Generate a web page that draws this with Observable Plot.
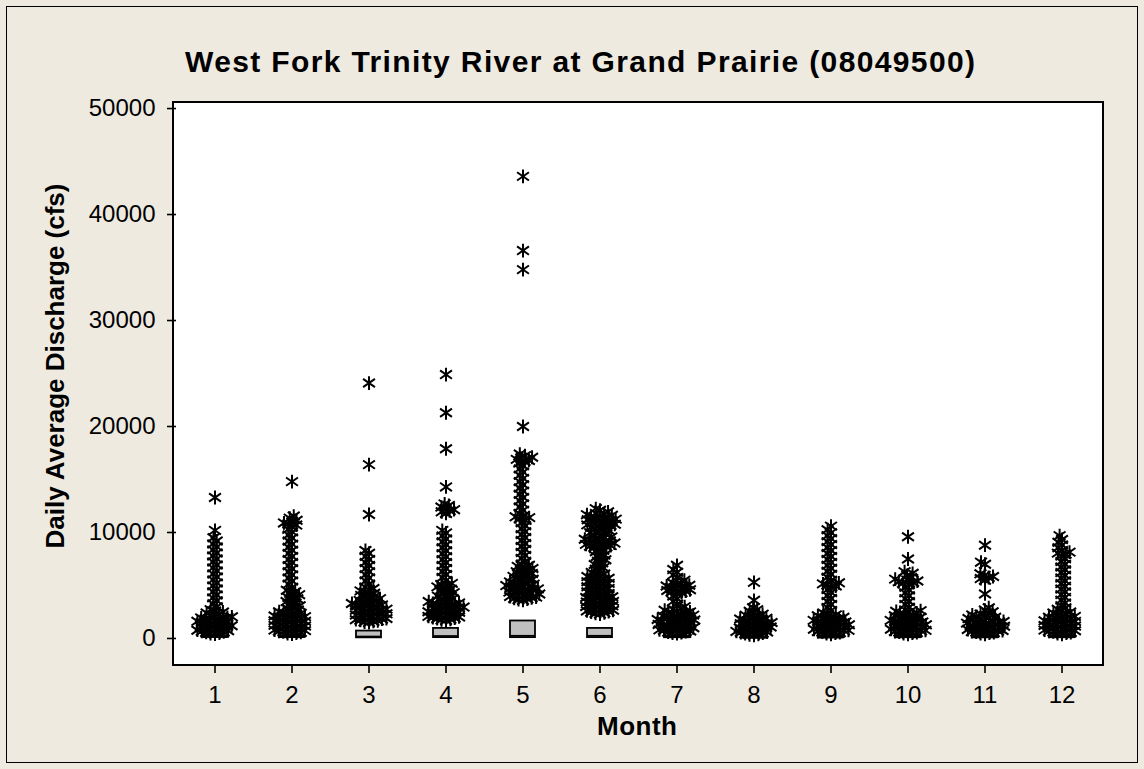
<!DOCTYPE html>
<html><head><meta charset="utf-8">
<script src="https://cdn.jsdelivr.net/npm/d3@7"></script>
<script src="https://cdn.jsdelivr.net/npm/@observablehq/plot@0.6"></script>
<style>
html,body{margin:0;padding:0;background:#EEEAE0;}
#wrap{position:relative;width:1144px;height:769px;background:#EEEAE0;overflow:hidden;font-family:"Liberation Sans",Arial,sans-serif;}
#outer{position:absolute;left:6px;top:6px;width:1132px;height:757px;border:1px solid #000;box-sizing:border-box;}
#plotbg{position:absolute;left:172px;top:101px;width:932px;height:565px;background:#fff;border:2px solid #000;box-sizing:border-box;}
#chart{position:absolute;left:0;top:0;}
#labels{position:absolute;left:0;top:0;pointer-events:none;}
</style></head><body>
<div id="wrap"><div id="outer"></div><div id="plotbg"></div><div id="chart"></div>
<svg id="labels" width="1144" height="769" font-family="Liberation Sans, Arial, sans-serif" font-weight="bold" fill="#000">
<text x="580" y="72" text-anchor="middle" font-size="30" textLength="790" lengthAdjust="spacing">West Fork Trinity River at Grand Prairie (08049500)</text>
<text x="637" y="735" text-anchor="middle" font-size="26" textLength="80" lengthAdjust="spacing">Month</text>
<text transform="translate(64,366) rotate(-90)" text-anchor="middle" font-size="26" textLength="365" lengthAdjust="spacing">Daily Average Discharge (cfs)</text>
</svg></div>
<script>
// ---- Data ----
const months = [1,2,3,4,5,6,7,8,9,10,11,12];
const q1      = [90, 80, 60, 80, 80, 80, 70, 40, 50, 70, 60, 70];
const median  = [180,170,180,230,250,250,140, 90,110,150,130,150];
const q3      = [260,250,700,950,1650,950,230,130,200,250,230,260];
const whiskerLow  = [10, 10, 0, 5, 5, 5, 3, 0, 0, 0, 2, 5];
const whiskerHigh = [440,400,1550,1650,2950,2250,480,190,400,400,380,400];
const yTicks = [0,10000,20000,30000,40000,50000];

// outliers (cfs), per month
const out1 = [420,470,520,570,625,675,730,780,835,885,940,990,1045,1095,1150,1200,1250,1305,1355,1410,1460,1515,1565,1620,1670,1725,1780,1830,1885,1940,1990,2045,2100,2200,2300,2400,2500,2600,2720,2990,3270,3560,3830,4110,4400,4680,4960,5240,5530,5810,6090,6380,6660,6940,7220,7510,7790,8070,8360,8640,8920,9200,9500,10200,13300];
const out2 = [410,465,520,575,630,685,740,795,850,905,960,1015,1070,1125,1180,1235,1290,1345,1400,1455,1510,1565,1620,1675,1730,1785,1840,1895,1950,2005,2060,2120,2180,2240,2300,2370,2440,2520,2600,2700,2830,2960,3090,3220,3350,3480,3610,3740,3870,4000,4130,4260,4400,4550,4840,5130,5420,5710,6000,6290,6580,6870,7160,7450,7740,8030,8320,8610,8900,9190,9480,9770,10060,10300,10550,10700,10800,10900,11000,11150,11350,11550,14800];
const out3 = [1500,1555,1610,1665,1720,1775,1830,1885,1940,1995,2050,2105,2160,2215,2270,2325,2380,2435,2490,2545,2600,2655,2710,2765,2820,2875,2930,2990,3050,3110,3170,3230,3300,3370,3440,3510,3590,3670,3760,3860,3960,4060,4160,4270,4380,4490,4600,4710,4850,5140,5430,5720,6010,6300,6590,6880,7170,7460,7750,8040,8300,11700,16400,24100];
const out4 = [1700,1755,1810,1865,1920,1975,2030,2085,2140,2195,2250,2305,2360,2415,2470,2525,2580,2635,2690,2745,2800,2855,2910,2965,3020,3075,3130,3185,3240,3300,3360,3420,3480,3550,3660,3770,3880,3990,4100,4210,4320,4430,4540,4650,4760,4870,4980,5090,5200,5480,5760,6040,6320,6600,6880,7160,7440,7720,8000,8280,8560,8840,9120,9400,9680,9960,10200,11800,11950,12050,12150,12250,12400,12550,12700,14300,17900,21300,24900];
const out5 = [3600,3660,3720,3780,3840,3900,3960,4020,4080,4140,4200,4260,4320,4380,4440,4500,4560,4620,4680,4740,4800,4860,4920,4990,5060,5130,5200,5270,5340,5420,5500,5590,5680,5770,5860,5950,6040,6130,6220,6310,6400,6500,6600,6700,6800,6900,7000,7280,7560,7840,8120,8400,8680,8960,9240,9520,9800,10080,10360,10640,10920,11150,11300,11400,11480,11560,11800,12100,12400,12700,13000,13300,13600,13900,14200,14500,14800,15100,15400,15700,16000,16300,16550,16700,16800,16900,17000,17100,17250,17400,20000,34800,36600,43600];
const out6 = [2300,2360,2420,2480,2540,2600,2660,2720,2780,2840,2900,2960,3020,3080,3140,3200,3260,3320,3380,3440,3500,3560,3620,3680,3740,3800,3870,3940,4000,4080,4160,4240,4320,4400,4480,4560,4640,4720,4800,4880,4960,5040,5120,5200,5280,5360,5440,5520,5600,5680,5760,5840,5920,6000,6080,6230,6380,6530,6680,6830,6980,7130,7280,7430,7580,7730,7880,8030,8180,8330,8480,8580,8640,8700,8760,8820,8880,8940,9000,9060,9120,9180,9240,9300,9360,9420,9480,9580,9680,9780,9880,9980,10080,10180,10280,10380,10480,10540,10600,10660,10720,10780,10840,10900,10960,11020,11080,11140,11200,11260,11320,11380,11440,11500,11560,11620,11680,11740,11800,11950,12100,12250];
const out7 = [450,500,550,605,655,705,760,810,860,915,965,1015,1070,1120,1170,1225,1275,1325,1380,1430,1480,1535,1585,1635,1690,1740,1790,1845,1895,1945,2000,2050,2100,2155,2205,2260,2320,2380,2440,2510,2580,2660,2750,2850,3000,3250,3500,3750,4000,4250,4320,4390,4460,4530,4600,4670,4740,4810,4880,4950,5020,5100,5180,5260,5500,5750,6000,6250,6500,6900];
const out8 = [300,350,400,455,505,560,610,665,715,770,820,875,925,980,1030,1085,1135,1190,1240,1295,1345,1400,1450,1505,1555,1610,1665,1720,1780,1840,1900,1970,2040,2120,2200,2300,2420,2560,2720,2900,3600,5300];
const out9 = [400,450,505,555,610,660,715,765,820,870,925,975,1030,1080,1135,1185,1240,1290,1345,1395,1450,1500,1555,1605,1660,1710,1765,1820,1880,1940,2000,2070,2140,2220,2300,2400,2650,2930,3210,3490,3770,4050,4330,4610,4850,4950,5050,5150,5250,5500,5780,6060,6340,6620,6900,7180,7460,7740,8020,8300,8580,8860,9140,9420,9700,9980,10260,10600];
const out10 = [400,450,505,555,610,660,715,765,820,870,925,975,1030,1080,1135,1185,1240,1290,1345,1395,1450,1500,1555,1605,1660,1710,1765,1820,1880,1940,2000,2070,2140,2210,2280,2350,2420,2490,2560,2630,2700,2950,3220,3490,3760,4030,4300,4570,4840,5100,5200,5280,5350,5420,5500,5600,5750,5950,6150,6300,7500,9600];
const out11 = [400,450,500,550,600,650,700,750,800,850,900,950,1000,1050,1100,1150,1200,1250,1300,1350,1400,1450,1500,1550,1600,1650,1700,1760,1820,1880,1940,2000,2070,2140,2220,2300,2400,2520,2680,2900,4200,5500,5650,5750,5850,5950,6100,7000,7200,8800];
const out12 = [400,455,510,565,620,675,730,785,840,895,950,1005,1060,1115,1170,1225,1280,1335,1390,1445,1500,1555,1610,1665,1720,1775,1830,1890,1950,2010,2080,2150,2230,2310,2400,2500,2620,2760,2900,3100,3360,3620,3880,4140,4400,4660,4920,5180,5440,5700,5960,6220,6480,6740,7000,7260,7520,7780,7950,8050,8150,8300,8560,8820,9080,9340,9700];
const outliers = [out1,out2,out3,out4,out5,out6,out7,out8,out9,out10,out11,out12];

// ---- Tables built from the arrays ----
const boxes = months.map((m, i) => ({month: m, q1: q1[i], median: median[i], q3: q3[i], lo: whiskerLow[i], hi: whiskerHigh[i]}));
const points = months.flatMap((m, i) => outliers[i].map(v => ({month: m, value: v})));

// Minitab-like asterisk (vertical stroke + two diagonals), drawn larger than the dodge radius
const starSymbol = {
  draw(ctx, size) {
    const h = Math.sqrt(size) * 1.3;
    const a = 0.86 * h, b = 0.6 * h;
    ctx.moveTo(0, -h); ctx.lineTo(0, h);
    ctx.moveTo(-a, -b); ctx.lineTo(a, b);
    ctx.moveTo(-a, b); ctx.lineTo(a, -b);
  }
};

const chart = Plot.plot({
  width: 1144,
  height: 769,
  marginTop: 102,
  marginBottom: 104,
  marginLeft: 173,
  marginRight: 41,
  style: {background: "transparent", fontFamily: "Liberation Sans, Arial, sans-serif", color: "#000", overflow: "visible"},
  fx: {domain: months, padding: 0, label: null},
  y: {domain: [-2550, 50570], label: null},
  marks: [
    Plot.ruleX(boxes, {fx: "month", y1: "q3", y2: "hi", stroke: "#000", strokeWidth: 1.8}),
    Plot.ruleX(boxes, {fx: "month", y1: "lo", y2: "q1", stroke: "#000", strokeWidth: 1.8}),
    Plot.barY(boxes, {fx: "month", y1: "q1", y2: "q3", fill: "#C0C0C0", stroke: "#000", strokeWidth: 1.8, insetLeft: 26, insetRight: 26}),
    Plot.tickY(boxes, {fx: "month", y: "median", stroke: "#000", strokeWidth: 1.8, insetLeft: 26, insetRight: 26}),
    Plot.dot(points, Plot.dodgeX({anchor: "middle", padding: -1.5}, {fx: "month", y: "value", r: 3, symbol: starSymbol, fill: "none", stroke: "#000", strokeWidth: 2})),
    Plot.axisY({ticks: yTicks, tickFormat: d => String(d), tickSize: 9, tickPadding: 12, fontSize: 24, strokeWidth: 1.6, label: null}),
    Plot.axisFx({anchor: "bottom", tickSize: 8, tickPadding: 12, fontSize: 24, strokeWidth: 1.6, label: null})
  ]
});
document.getElementById("chart").appendChild(chart);
</script>
</body></html>
